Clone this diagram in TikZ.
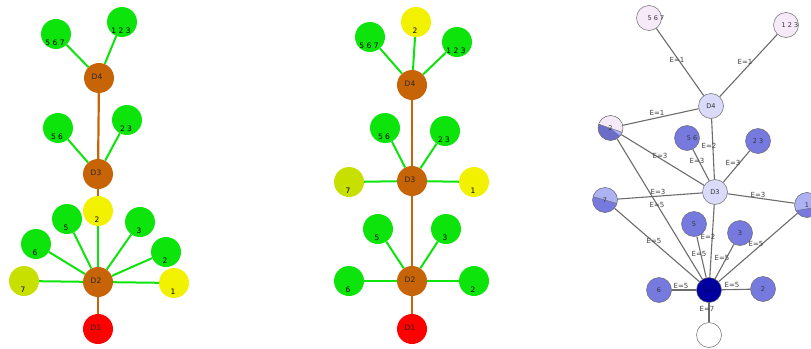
\documentclass[tikz,border=0pt]{standalone}
\usepackage{fontspec}
\setmainfont{DejaVu Sans}
\usetikzlibrary{calc}
\definecolor{ngreen}{RGB}{12,228,12}
\definecolor{nyellow}{RGB}{242,242,0}
\definecolor{nygreen}{RGB}{200,224,0}
\definecolor{nbrown}{RGB}{200,100,8}
\definecolor{nred}{RGB}{255,0,0}
\definecolor{rpink}{RGB}{246,234,248}
\definecolor{rlav}{RGB}{218,218,250}
\definecolor{rmid}{RGB}{118,122,222}
\definecolor{rlight}{RGB}{172,178,242}
\definecolor{rnavy}{RGB}{0,0,160}
\definecolor{rborder}{RGB}{105,105,105}
\definecolor{redge}{RGB}{108,108,108}
\begin{document}
\begin{tikzpicture}[x=1pt,y=-1pt,
  cn/.style={circle, minimum size=30pt, inner sep=0pt, fill=#1},
  lt/.style={anchor=base west, xshift=-1pt, yshift=-9pt, text=black, font=\fontsize{7.5}{8}\selectfont},
  dt/.style={xshift=-2pt, yshift=1pt, text=black!85, font=\fontsize{7.5}{8}\selectfont},
  gedge/.style={draw=ngreen, line width=2pt},
  oedge/.style={draw=nbrown, line width=2.2pt},
  rn/.style={circle, minimum size=25pt, inner sep=0pt, draw=rborder, line width=0.5pt, fill=#1},
  rt/.style={text=black!80, font=\fontsize{6.5}{7}\selectfont},
  redg/.style={draw=redge, line width=1.1pt},
  el/.style={inner sep=0pt, text=black!75, font=\fontsize{7}{8}\selectfont}
]
\useasboundingbox (0,0) rectangle (811,348);

% ---------- left panel ----------
\node[cn=ngreen, label={[lt]center:5 6 7}] (L567) at (56,34) {};
\node[cn=ngreen, label={[lt]center:1 2 3}] (L123) at (122,22) {};
\node[cn=nbrown, label={[dt]center:D4}] (LD4) at (99,78) {};
\node[cn=ngreen, label={[lt]center:5 6}] (L56) at (58,128) {};
\node[cn=ngreen, label={[lt]center:2 3}] (L23) at (127,120) {};
\node[cn=nbrown, label={[dt]center:D3}] (LD3) at (98,174) {};
\node[cn=nyellow, label={[lt]center:2}] (Ly2) at (98,211) {};
\node[cn=ngreen, label={[lt]center:5}] (L5) at (67,219) {};
\node[cn=ngreen, label={[lt]center:3}] (L3) at (140,222) {};
\node[cn=ngreen, label={[lt]center:6}] (L6) at (36,244) {};
\node[cn=ngreen, label={[lt]center:2}] (L2) at (166,252) {};
\node[cn=nygreen, label={[lt]center:7}] (L7) at (24,281) {};
\node[cn=nbrown, label={[dt]center:D2}] (LD2) at (98,282) {};
\node[cn=nyellow, label={[lt]center:1}] (L1) at (174,283) {};
\node[cn=nred, label={[dt]center:D1}] (LD1) at (98,329) {};

\draw[gedge] (LD4) -- (L567);
\draw[gedge] (LD4) -- (L123);
\draw[oedge] (LD4) -- (LD3);
\draw[gedge] (LD3) -- (L56);
\draw[gedge] (LD3) -- (L23);
\draw[oedge] (LD3) -- (Ly2);
\draw[gedge] (Ly2) -- (LD2);
\draw[gedge] (LD2) -- (L5);
\draw[gedge] (LD2) -- (L3);
\draw[gedge] (LD2) -- (L6);
\draw[gedge] (LD2) -- (L2);
\draw[gedge] (LD2) -- (L7);
\draw[gedge] (LD2) -- (L1);
\draw[oedge] (LD2) -- (LD1);

% ---------- middle panel ----------
\node[cn=ngreen, label={[lt]center:5 6 7}] (M567) at (370,37) {};
\node[cn=nyellow, label={[lt]center:2}] (My2) at (416,22) {};
\node[cn=ngreen, label={[lt]center:1 2 3}] (M123) at (457,42) {};
\node[cn=nbrown, label={[dt]center:D4}] (MD4) at (412,85) {};
\node[cn=ngreen, label={[lt]center:5 6}] (M56) at (385,128) {};
\node[cn=ngreen, label={[lt]center:2 3}] (M23) at (445,131) {};
\node[cn=nygreen, label={[lt]center:7}] (M7) at (349,182) {};
\node[cn=nbrown, label={[dt]center:D3}] (MD3) at (412,181) {};
\node[cn=nyellow, label={[lt]center:1}] (M1) at (474,182) {};
\node[cn=ngreen, label={[lt]center:5}] (M5) at (378,229) {};
\node[cn=ngreen, label={[lt]center:3}] (M3) at (446,229) {};
\node[cn=ngreen, label={[lt]center:6}] (M6) at (349,281) {};
\node[cn=nbrown, label={[dt]center:D2}] (MD2) at (412,281) {};
\node[cn=ngreen, label={[lt]center:2}] (M2) at (474,281) {};
\node[cn=nred, label={[dt]center:D1}] (MD1) at (412,329) {};

\draw[gedge] (MD4) -- (M567);
\draw[gedge] (MD4) -- (My2);
\draw[gedge] (MD4) -- (M123);
\draw[oedge] (MD4) -- (MD3);
\draw[gedge] (MD3) -- (M56);
\draw[gedge] (MD3) -- (M23);
\draw[gedge] (MD3) -- (M7);
\draw[gedge] (MD3) -- (M1);
\draw[oedge] (MD3) -- (MD2);
\draw[gedge] (MD2) -- (M5);
\draw[gedge] (MD2) -- (M3);
\draw[gedge] (MD2) -- (M6);
\draw[gedge] (MD2) -- (M2);
\draw[oedge] (MD2) -- (MD1);

% ---------- right panel ----------
% split-coloured nodes
\coordinate (c2) at (610.5,128);
\begin{scope}
  \clip (c2) circle[radius=12.5pt];
  \fill[rmid!90!black] ([shift={(-15,-15)}]c2) rectangle ([shift={(15,15)}]c2);
  \fill[rpink] ([shift={(-15,-5)}]c2) -- ([shift={(15,5.5)}]c2) -- ([shift={(15,-15)}]c2) -- ([shift={(-15,-15)}]c2) -- cycle;
  \fill[rlight] (c2) -- ([shift={(15,5.5)}]c2) -- ([shift={(15,12)}]c2) -- cycle;
  \draw[rborder, line width=0.4pt] ([shift={(-15,-5)}]c2) -- ([shift={(15,5.5)}]c2);
\end{scope}
\coordinate (c7) at (605,200);
\begin{scope}
  \clip (c7) circle[radius=12.5pt];
  \fill[rmid] ([shift={(-15,-15)}]c7) rectangle ([shift={(15,15)}]c7);
  \fill[rlight] ([shift={(-15,-4.3)}]c7) -- ([shift={(15,4.3)}]c7) -- ([shift={(15,-15)}]c7) -- ([shift={(-15,-15)}]c7) -- cycle;
  \draw[rborder, line width=0.4pt] ([shift={(-15,-4.3)}]c7) -- ([shift={(15,4.3)}]c7);
\end{scope}
\coordinate (c1) at (807,205);
\begin{scope}
  \clip (c1) circle[radius=12.5pt];
  \fill[rmid] ([shift={(-15,-15)}]c1) rectangle ([shift={(15,15)}]c1);
  \fill[rlight] ([shift={(-15,6.5)}]c1) -- ([shift={(15,1)}]c1) -- ([shift={(15,-15)}]c1) -- ([shift={(-15,-15)}]c1) -- cycle;
  \draw[rborder, line width=0.4pt] ([shift={(-15,6.5)}]c1) -- ([shift={(15,1)}]c1);
\end{scope}

\node[rn=rpink, label={[rt, xshift=7pt]center:5 6 7}] (R567) at (649,18) {};
\node[rn=rpink, label={[rt, xshift=4pt]center:1 2 3}] (R123) at (786,25) {};
\node[rn=rlav, label={[rt]center:D4}] (RD4) at (711,106) {};
\node[rn=none, label={[rt]center:2}] (R2s) at (c2) {};
\node[rn=rmid, label={[rt, xshift=5pt]center:5 6}] (R56) at (687,138) {};
\node[rn=rmid, label={[rt]center:2 3}] (R23) at (758,141) {};
\node[rn=rlav, label={[rt]center:D3}] (RD3) at (715,192) {};
\node[rn=none, label={[rt]center:7}] (R7) at (c7) {};
\node[rn=none, label={[rt]center:1}] (R1) at (c1) {};
\node[rn=rmid, label={[rt]center:5}] (R5) at (694,224) {};
\node[rn=rmid, label={[rt]center:3}] (R3) at (740,233) {};
\node[rn=rmid, label={[rt]center:6}] (R6) at (659,290) {};
\node[rn=rnavy, label={[rt, text=rnavy!60!black]center:D2}] (RD2) at (709,290) {};
\node[rn=rmid, label={[rt]center:2}] (R2) at (763,289) {};
\node[rn=white] (Rb) at (709,335) {};

\draw[redg] (R567) -- (RD4);
\draw[redg] (R123) -- (RD4);
\draw[redg] (R2s) -- (RD4);
\draw[redg] (RD4) -- (RD3);
\draw[redg] (R2s) -- (RD3);
\draw[redg] (R56) -- (RD3);
\draw[redg] (R23) -- (RD3);
\draw[redg] (R7) -- (RD3);
\draw[redg] (RD3) -- (R1);
\draw[redg] (R2s) -- (RD2);
\draw[redg] (R7) -- (RD2);
\draw[redg] (RD3) -- (RD2);
\draw[redg] (R5) -- (RD2);
\draw[redg] (R3) -- (RD2);
\draw[redg] (R1) -- (RD2);
\draw[redg] (R6) -- (RD2);
\draw[redg] (RD2) -- (R2);
\draw[redg] (RD2) -- (Rb);

% edge labels
\node[el] (e1) at (677,60) {E=1};
\node[el] (e2) at (745,62) {E=1};
\node[el] (e3) at (657,113) {E=1};
\node[el] (e4) at (709,146) {E=2};
\node[el] (e5) at (660,156) {E=3};
\node[el] (e6) at (697,161) {E=3};
\node[el] (e7) at (733,163) {E=3};
\node[el] (e8) at (658,192) {E=3};
\node[el] (e9) at (657,205) {E=5};
\node[el] (e10) at (758,195) {E=3};
\node[el] (e11) at (654,241) {E=5};
\node[el] (e12) at (708,237) {E=2};
\node[el] (e13) at (699,254) {E=5};
\node[el] (e14) at (722,258) {E=5};
\node[el] (e15) at (756,244) {E=5};
\node[el] (e16) at (681,286) {E=5};
\node[el] (e17) at (732,285) {E=5};
\node[el] (e18) at (707,309) {E=7};
\end{tikzpicture}
\end{document}
